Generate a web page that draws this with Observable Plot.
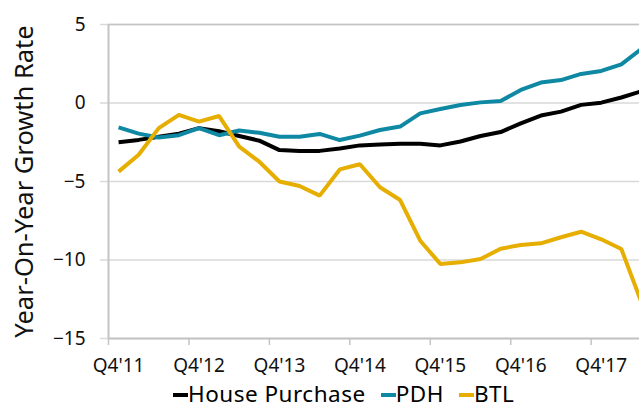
<!DOCTYPE html>
<html><head><meta charset="utf-8">
<script src="https://cdn.jsdelivr.net/npm/d3@7"></script>
<script src="https://cdn.jsdelivr.net/npm/@observablehq/plot@0.6"></script>
<style>
body{margin:0;background:#fff;font-family:"Noto Sans",sans-serif;overflow:hidden;}
#legend{display:flex;gap:15px;margin-left:173px;font-size:22.5px;letter-spacing:0.5px;line-height:31px;height:31px;color:#000;white-space:nowrap;}
#legend .item{display:flex;align-items:center;}
#legend .sw{display:inline-block;width:15px;height:4px;margin-top:3px;}
</style></head><body><div id="chart"></div><div id="legend"></div>
<script>
const quarters = ["Q4'11","Q1'12","Q2'12","Q3'12","Q4'12","Q1'13","Q2'13","Q3'13","Q4'13","Q1'14","Q2'14","Q3'14","Q4'14","Q1'15","Q2'15","Q3'15","Q4'15","Q1'16","Q2'16","Q3'16","Q4'16","Q1'17","Q2'17","Q3'17","Q4'17","Q1'18","Q2'18"];
const housePurchase = [-2.5,-2.35,-2.15,-1.95,-1.6,-1.8,-2.1,-2.4,-3.0,-3.05,-3.05,-2.9,-2.7,-2.65,-2.6,-2.6,-2.7,-2.45,-2.1,-1.85,-1.3,-0.8,-0.55,-0.12,0.02,0.35,0.75];
const pdh = [-1.55,-1.95,-2.2,-2.05,-1.6,-2.05,-1.75,-1.9,-2.15,-2.15,-1.97,-2.36,-2.08,-1.72,-1.5,-0.66,-0.38,-0.13,0.04,0.13,0.83,1.3,1.46,1.85,2.04,2.46,3.45];
const btl = [-4.37,-3.3,-1.6,-0.76,-1.19,-0.83,-2.78,-3.74,-5.0,-5.29,-5.9,-4.23,-3.9,-5.37,-6.18,-8.77,-10.25,-10.15,-9.94,-9.28,-9.04,-8.94,-8.55,-8.2,-8.68,-9.3,-12.7];
const seriesNames = ["House Purchase","PDH","BTL"];
const seriesColors = ["#000000","#0f89a3","#e6ae00"];
const yTicks = [5,0,-5,-10,-15];
const xLabelQuarters = ["Q4'11","Q4'12","Q4'13","Q4'14","Q4'15","Q4'16","Q4'17"];
const yLabel = "Year-On-Year Growth Rate";

const seriesValues = [housePurchase, pdh, btl];
const data = [];
seriesNames.forEach((s, k) => seriesValues[k].forEach((v, i) => data.push({series: s, i, v})));
const labelIdx = xLabelQuarters.map(q => quarters.indexOf(q));
const boundaryIdx = labelIdx.map(i => i - 0.5);

const chart = Plot.plot({
  width: 639,
  height: 378,
  marginLeft: 108,
  marginRight: 0,
  marginTop: 24,
  marginBottom: 40,
  style: {fontFamily: "Noto Sans", fontSize: "19px", background: "#fff", color: "#000"},
  x: {domain: [-0.5, 26.5], range: [108, 651]},
  y: {domain: [-15, 5]},
  color: {domain: seriesNames, range: seriesColors},
  marks: [
    Plot.gridY(yTicks, {stroke: "#d9d9d9", strokeOpacity: 1, strokeWidth: 1.5}),
    Plot.ruleY([5], {stroke: "#c4c4c4", strokeWidth: 1.5}),
    Plot.axisY(yTicks, {tickSize: 8, tickPadding: 15, stroke: "#d9d9d9", strokeWidth: 1.5, fill: "#111", fontSize: 19, label: null, tickFormat: d => d < 0 ? "\u2212" + Math.abs(d) : String(d)}),
    Plot.axisX(boundaryIdx, {tickSize: 7, stroke: "#c4c4c4", strokeWidth: 1.5, tickFormat: () => "", label: null}),
    Plot.axisX(labelIdx, {tickSize: 0, tickPadding: 20, fill: "#111", fontSize: 19, tickFormat: i => quarters[i], label: null}),
    Plot.ruleY([-15], {stroke: "#c4c4c4", strokeWidth: 2}),
    Plot.ruleX([-0.5], {stroke: "#c4c4c4", strokeWidth: 2}),
    Plot.line(data, {x: "i", y: "v", z: "series", stroke: "series", strokeWidth: 4, strokeLinejoin: "miter", strokeLinecap: "butt"}),
    Plot.text([yLabel], {frameAnchor: "left", dx: -84, rotate: -90, fontSize: 25.5, textAnchor: "middle", lineAnchor: "middle", fill: "#111"})
  ]
});
document.getElementById("chart").appendChild(chart);

const legend = document.getElementById("legend");
seriesNames.forEach((s, k) => {
  const item = document.createElement("div");
  item.className = "item";
  const sw = document.createElement("span");
  sw.className = "sw";
  sw.style.background = seriesColors[k];
  item.appendChild(sw);
  item.appendChild(document.createTextNode(s));
  legend.appendChild(item);
});
</script></body></html>
